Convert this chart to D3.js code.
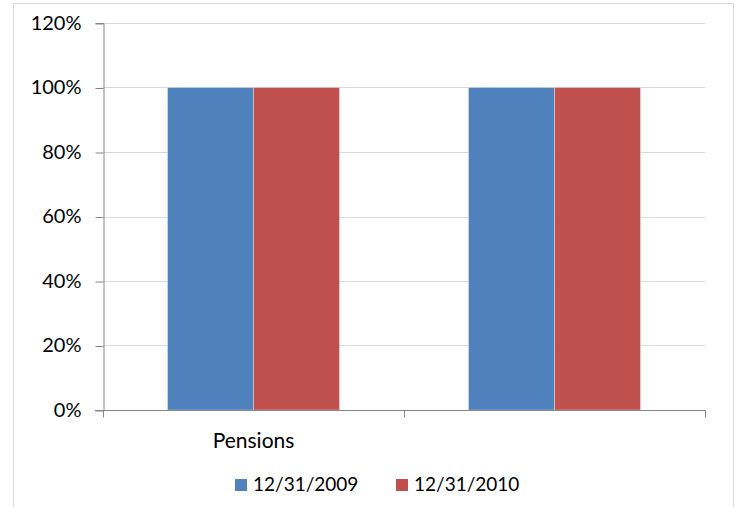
<!DOCTYPE html>
<html>
<head>
<meta charset="utf-8">
<script src="https://cdn.jsdelivr.net/npm/d3@7"></script>
<style>
  body { margin: 0; background: #fff; }
  text { font-family: Lato, "Open Sans", sans-serif; fill: #000; }
</style>
</head>
<body>
<div id="chart"></div>
<script>
// data
const categories = ["Pensions", ""];
const seriesNames = ["12/31/2009", "12/31/2010"];
const series2009 = [1.0, 1.0];
const series2010 = [1.0, 1.0];
const yTicks = [0, 0.2, 0.4, 0.6, 0.8, 1.0, 1.2];
const colors = ["#4F81BD", "#C0504D"];

const width = 736, height = 507;
const margin = { top: 23, bottom: 97, left: 103, right: 31 };

const svg = d3.select("#chart").append("svg")
  .attr("width", width)
  .attr("height", height);

// chart frame
svg.append("rect")
  .attr("x", 13.5).attr("y", 3.5)
  .attr("width", 720).attr("height", 510)
  .attr("fill", "none")
  .attr("stroke", "#D9D9D9");

const x = d3.scaleBand()
  .domain(d3.range(categories.length))
  .range([margin.left, width - margin.right]);

const y = d3.scaleLinear()
  .domain([0, 1.2])
  .range([height - margin.bottom, margin.top]);

// gridlines
svg.append("g")
  .selectAll("line")
  .data(yTicks.filter(d => d > 0))
  .join("line")
  .attr("x1", margin.left).attr("x2", width - margin.right)
  .attr("y1", d => Math.round(y(d)) + 0.5)
  .attr("y2", d => Math.round(y(d)) + 0.5)
  .attr("stroke", "#D9D9D9");

// bars (gap width 150%)
const seriesData = [series2009, series2010];
const barW = x.bandwidth() / (2 + 1.5);
const groups = svg.append("g").selectAll("g")
  .data(seriesData)
  .join("g")
  .attr("fill", (d, i) => colors[i]);

groups.selectAll("rect")
  .data((d, si) => d.map((v, ci) => ({ v, ci, si })))
  .join("rect")
  .attr("x", d => x(d.ci) + x.bandwidth() / 2 - barW + d.si * barW)
  .attr("width", barW)
  .attr("y", d => y(d.v))
  .attr("height", d => y(0) - y(d.v))
  .attr("stroke", "rgba(255,255,255,0.35)")
  .attr("stroke-width", 1);

// y axis
const yAxis = d3.axisLeft(y)
  .tickValues(yTicks)
  .tickFormat(d3.format(".0%"))
  .tickSize(8)
  .tickPadding(14);

const yAxisG = svg.append("g")
  .attr("transform", `translate(${margin.left + 0.5}, 0)`)
  .call(yAxis);
yAxisG.selectAll("line").attr("stroke", "#868686")
  .attr("transform", "translate(0,0.5)");
yAxisG.select(".domain").attr("stroke", "#868686");
yAxisG.selectAll("text")
  .attr("font-size", 20)
  .attr("font-family", "Lato, 'Open Sans', sans-serif");

// x axis
const xBase = Math.round(y(0)) + 0.5;
svg.append("line")
  .attr("x1", margin.left - 8).attr("x2", width - margin.right)
  .attr("y1", xBase).attr("y2", xBase)
  .attr("stroke", "#868686");

svg.append("g").selectAll("line")
  .data(d3.range(categories.length + 1))
  .join("line")
  .attr("x1", i => Math.round(margin.left + i * x.step()) + 0.5)
  .attr("x2", i => Math.round(margin.left + i * x.step()) + 0.5)
  .attr("y1", xBase).attr("y2", xBase + 7)
  .attr("stroke", "#868686");

svg.append("g").selectAll("text")
  .data(categories)
  .join("text")
  .attr("x", (d, i) => x(i) + x.bandwidth() / 2)
  .attr("y", 448)
  .attr("text-anchor", "middle")
  .attr("font-size", 21)
  .text(d => d);

// legend
const legendX = [235, 396];
const legend = svg.append("g").selectAll("g")
  .data(seriesNames)
  .join("g")
  .attr("transform", (d, i) => `translate(${legendX[i]}, 479)`);

legend.append("rect")
  .attr("width", 12).attr("height", 12)
  .attr("fill", (d, i) => colors[i]);

legend.append("text")
  .attr("x", 18)
  .attr("y", 11.5)
  .attr("font-size", 19)
  .text(d => d);
</script>
</body>
</html>
